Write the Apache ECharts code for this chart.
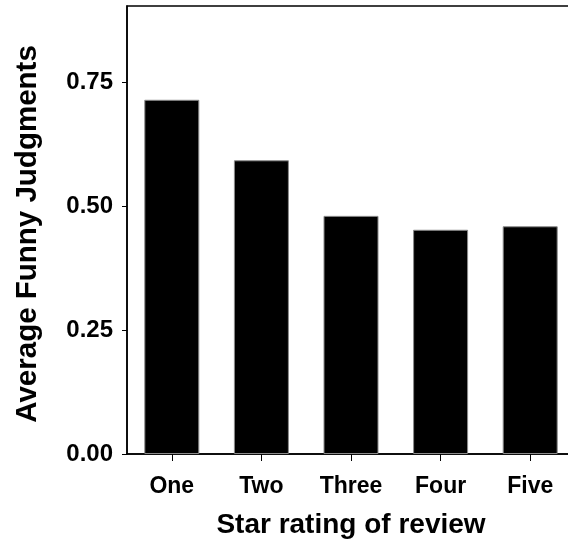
<!DOCTYPE html>
<html>
<head>
<meta charset="utf-8">
<script src="https://cdn.jsdelivr.net/npm/echarts@6/dist/echarts.min.js"></script>
<style>
html,body{margin:0;padding:0;background:#fff;overflow:hidden;width:568px;height:547px;}
#chart{width:580px;height:547px;}
</style>
</head>
<body>
<div id="chart"></div>
<script>
const categories = ['One', 'Two', 'Three', 'Four', 'Five'];
const funnyValues = [0.714, 0.592, 0.480, 0.452, 0.459];
const yTicks = [0, 0.25, 0.5, 0.75];
const xTitle = 'Star rating of review';
const yTitle = 'Average Funny Judgments';

const FONT = '"Liberation Sans", Arial, Helvetica, sans-serif';
const chart = echarts.init(document.getElementById('chart'), null, {renderer: 'canvas'});
chart.setOption({
  animation: false,
  backgroundColor: '#fff',
  grid: {
    left: 127, top: 6, width: 448, height: 448,
    show: true, borderColor: '#000', borderWidth: 1.5, backgroundColor: 'transparent'
  },
  xAxis: {
    type: 'category',
    data: categories,
    boundaryGap: true,
    name: xTitle,
    nameLocation: 'middle',
    nameGap: 57,
    nameTextStyle: {fontFamily: FONT, fontWeight: 'bold', fontSize: 28, color: '#000'},
    axisLine: {show: true, lineStyle: {color: '#000', width: 1.5}},
    axisTick: {show: true, alignWithLabel: true, length: 7, lineStyle: {color: '#000', width: 1}},
    axisLabel: {fontFamily: FONT, fontWeight: 'bold', fontSize: 23, color: '#000', margin: 21},
    splitLine: {show: false}
  },
  yAxis: {
    type: 'value',
    min: 0,
    max: 0.903,
    interval: 0.25,
    name: yTitle,
    nameLocation: 'middle',
    nameGap: 84,
    nameTextStyle: {fontFamily: FONT, fontWeight: 'bold', fontSize: 29.5, color: '#000', padding: [0, 8, 0, 0]},
    axisLine: {show: true, lineStyle: {color: '#000', width: 1.5}},
    axisTick: {show: true, length: 5, customValues: yTicks, lineStyle: {color: '#000', width: 1}},
    axisLabel: {
      fontFamily: FONT, fontWeight: 'bold', fontSize: 24, color: '#000', margin: 14,
      customValues: yTicks,
      formatter: v => v.toFixed(2)
    },
    splitLine: {show: false}
  },
  series: [{
    type: 'bar',
    data: funnyValues,
    barWidth: 55,
    itemStyle: {color: '#000', borderColor: '#8a8a8a', borderWidth: 1}
  }]
});
</script>
</body>
</html>
